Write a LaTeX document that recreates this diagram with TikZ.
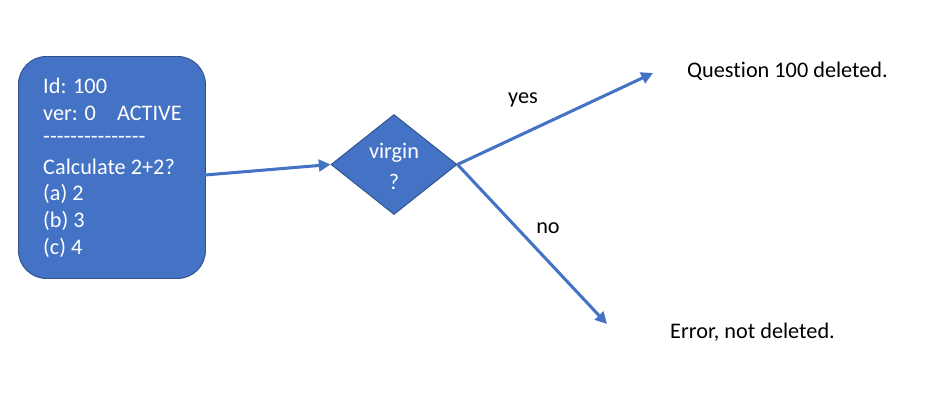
\documentclass[tikz,border=0pt]{standalone}
\usepackage{fontspec}
\setmainfont{Carlito}[Ligatures={NoCommon,TeX}]
\usetikzlibrary{shapes.geometric,arrows.meta}
\definecolor{accent}{HTML}{4472C4}
\definecolor{edgeblue}{HTML}{2F528F}
\tikzset{
  card/.style={draw=edgeblue, line width=0.8pt, fill=accent, rounded corners=28*0.03cm},
  decide/.style={diamond, draw=edgeblue, line width=0.8pt, fill=accent, minimum width=126*0.03cm, minimum height=100*0.03cm, aspect=1.26, inner sep=0pt},
  flow/.style={draw=accent, line width=2.6pt, -{Triangle[length=10pt,width=10pt]}},
  wtext/.style={text=white, font=\fontsize{19}{22}\selectfont, anchor=west, inner sep=0pt},
  btext/.style={text=black, font=\fontsize{19}{22}\selectfont, inner sep=0pt}
}
\begin{document}
\begin{tikzpicture}[x=0.03cm, y=-0.03cm]
\useasboundingbox (0,0) rectangle (926,409);
\node[card, minimum width=187*0.03cm, minimum height=222*0.03cm, anchor=north west, inner sep=0pt] (box) at (18,56) {};
\node[wtext] (l1) at (43,86) {Id: 100};
\node[wtext] (l2) at (43,113) {ver: 0\hspace{0.95em}ACTIVE};
\node[wtext] (l3) at (43,140) {-{}-{}-{}-{}-{}-{}-{}-{}-{}-{}-{}-{}-{}-{}-{}};
\node[wtext] (l4) at (43,167) {Calculate 2+2?};
\node[wtext] (l5) at (43,194) {(a) 2};
\node[wtext] (l6) at (43,221) {(b) 3};
\node[wtext] (l7) at (43,248) {(c) 4};
\node[decide] (dec) at (394,164.5) {};
\node[text=white, font=\fontsize{19}{22}\selectfont, inner sep=0pt] (v1) at (394,153) {virgin};
\node[text=white, font=\fontsize{19}{22}\selectfont, inner sep=0pt] (v2) at (394,182) {?};
\node[btext, anchor=west] (del) at (687,71) {Question 100 deleted.};
\node[btext, anchor=west] (err) at (670,332) {Error, not deleted.};
\coordinate (a0) at (205,175);
\coordinate (yesend) at (653,73);
\coordinate (noend) at (607,324);
\draw[flow] (a0) -- (dec.west);
\draw[flow] (dec.east) -- (yesend);
\draw[flow] (dec.east) -- (noend);
\node[btext] (yes) at (523,100) {yes};
\node[btext] (no) at (548,228) {no};
\end{tikzpicture}
\end{document}
